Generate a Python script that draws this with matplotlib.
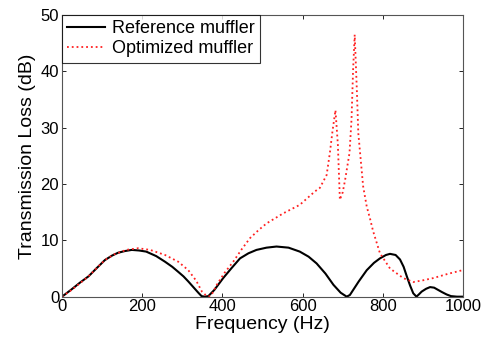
import matplotlib
matplotlib.use('Agg')
import matplotlib.pyplot as plt
import numpy as np

# Reference muffler (black solid)
ref_freq = [0, 24, 45, 66, 87, 107, 125, 140, 157, 174, 192, 210, 235, 257, 275, 290, 303, 315, 330, 340,
            348, 356, 365, 380, 402, 422, 444, 465, 485, 510, 535, 565, 593, 615, 635, 657, 677, 695, 710,
            718, 740, 760, 778, 793, 808, 818, 832, 843, 852, 860, 868, 876, 884, 890, 897, 908, 918, 928,
            938, 948, 959, 970, 985, 1000]
ref_tl = [0, 1.3, 2.5, 3.6, 5.1, 6.5, 7.3, 7.8, 8.1, 8.3, 8.2, 8.0, 7.2, 6.2, 5.3, 4.4, 3.6, 2.7, 1.5, 0.7,
          0.1, 0.0, 0.1, 1.2, 3.3, 5.0, 6.8, 7.7, 8.3, 8.7, 8.9, 8.7, 8.0, 7.1, 5.9, 4.1, 2.1, 0.7, 0.0,
          0.3, 2.7, 4.7, 6.0, 6.8, 7.4, 7.6, 7.4, 6.6, 5.3, 3.6, 2.0, 0.6, 0.0, 0.4, 0.9, 1.4, 1.7, 1.6,
          1.2, 0.8, 0.4, 0.1, 0.0, 0.0]

# Optimized muffler (red dotted)
opt_freq = [0, 24, 45, 66, 87, 107, 130, 160, 190, 220, 257, 290, 315, 335, 349, 358, 366, 375, 386, 405,
            427, 448, 469, 490, 510, 552, 593, 631, 643, 660, 668, 675, 682, 688, 693, 700, 706, 717, 722,
            726, 730, 735, 739, 745, 751, 760, 768, 776, 793, 818, 851, 876, 900, 926, 960, 993, 1000]
opt_tl = [0, 1.2, 2.4, 3.6, 5.1, 6.5, 7.5, 8.3, 8.6, 8.3, 7.4, 6.2, 4.7, 2.8, 0.9, 0.3, 0.0, 0.6, 2.1, 4.2,
          6.2, 8.4, 10.4, 11.8, 13.0, 14.8, 16.3, 18.7, 19.3, 21.6, 25.5, 29.6, 33.1, 27.0, 17.2, 18.5, 20.7,
          25.5, 31.4, 40.3, 46.5, 37.3, 29.0, 24.3, 19.6, 16.0, 13.9, 11.6, 7.7, 5.0, 3.3, 2.6, 2.9, 3.3, 4.0,
          4.6, 4.7]

plt.rcParams['font.family'] = ['Liberation Sans', 'DejaVu Sans']

fig = plt.figure(figsize=(4.92, 3.41), dpi=100)
ax = fig.add_axes([0.126, 0.130, 0.815, 0.826])

ax.plot(ref_freq, ref_tl, color='black', linewidth=1.5, label='Reference muffler')
ax.plot(opt_freq, opt_tl, color='#ff2020', linestyle=':', linewidth=1.3, label='Optimized muffler')

ax.set_xlim(0, 1000)
ax.set_ylim(0, 50)
ax.set_xticks([0, 200, 400, 600, 800, 1000])
ax.set_yticks([0, 10, 20, 30, 40, 50])
ax.tick_params(direction='in', top=True, right=True, labelsize=12, length=3, width=0.6, pad=2)
for sp in ax.spines.values():
    sp.set_linewidth(0.8)
    sp.set_color('#555555')

ax.set_xlabel('Frequency (Hz)', fontsize=14, labelpad=1)
ax.set_ylabel('Transmission Loss (dB)', fontsize=14, labelpad=3)

leg = ax.legend(loc='upper left', fontsize=13, frameon=True, fancybox=False,
                borderaxespad=0, handlelength=2.1, handletextpad=0.35, borderpad=0.3,
                labelspacing=0.15)
leg.get_frame().set_edgecolor('black')
leg.get_frame().set_linewidth(0.8)

fig.savefig('out.png', dpi=100)
